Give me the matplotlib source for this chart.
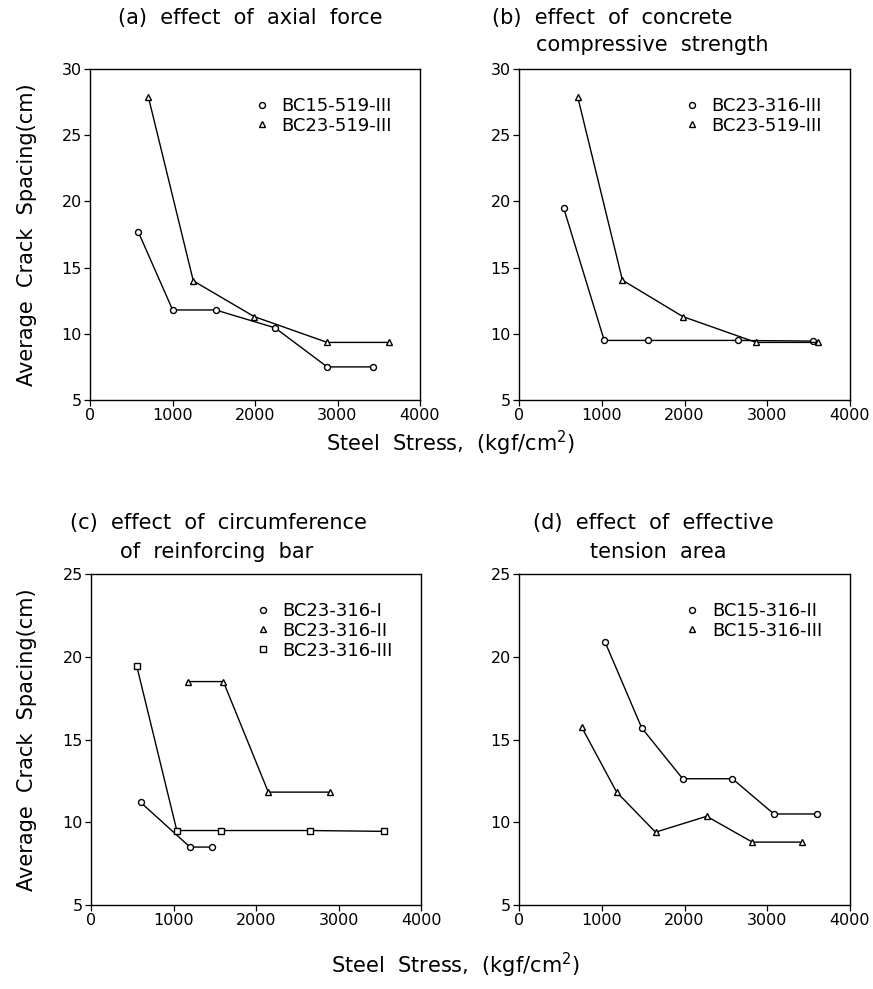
import matplotlib
matplotlib.use("Agg")
import matplotlib.pyplot as plt
from matplotlib.lines import Line2D

plt.rcParams['font.family'] = ['DejaVu Sans']

# ---- data ----
# (a) effect of axial force
a_names = ["BC15-519-III", "BC23-519-III"]
a_x1 = [585, 1002, 1523, 2243, 2875, 3430]
a_y1 = [17.7, 11.8, 11.8, 10.45, 7.5, 7.5]
a_x2 = [707, 1252, 1990, 2875, 3620]
a_y2 = [27.9, 14.0, 11.3, 9.35, 9.35]

# (b) effect of concrete compressive strength
b_names = ["BC23-316-III", "BC23-519-III"]
b_x1 = [540, 1030, 1555, 2642, 3554]
b_y1 = [19.5, 9.5, 9.5, 9.5, 9.45]
b_x2 = [709, 1250, 1980, 2865, 3608]
b_y2 = [27.9, 14.05, 11.3, 9.35, 9.35]

# (c) effect of circumference of reinforcing bar
c_names = ["BC23-316-I", "BC23-316-II", "BC23-316-III"]
c_x1 = [602, 1200, 1470]
c_y1 = [11.2, 8.5, 8.5]
c_x2 = [1172, 1604, 2149, 2897]
c_y2 = [18.5, 18.5, 11.82, 11.82]
c_x3 = [554, 1040, 1580, 2650, 3550]
c_y3 = [19.45, 9.5, 9.5, 9.5, 9.45]

# (d) effect of effective tension area
d_names = ["BC15-316-II", "BC15-316-III"]
d_x1 = [1039, 1483, 1978, 2578, 3081, 3606]
d_y1 = [20.9, 15.7, 12.63, 12.63, 10.5, 10.5]
d_x2 = [757, 1180, 1650, 2268, 2820, 3420]
d_y2 = [15.75, 11.82, 9.4, 10.36, 8.8, 8.8]

x_ticks = [0, 1000, 2000, 3000, 4000]
y_ticks_top = [5, 10, 15, 20, 25, 30]
y_ticks_bot = [5, 10, 15, 20, 25]

W, H = 873, 989
fig = plt.figure(figsize=(W / 100, H / 100), dpi=100)

def ax_at(left, top, right, bottom):
    return fig.add_axes([left / W, 1 - bottom / H, (right - left) / W, (bottom - top) / H])

axA = ax_at(90, 69, 420, 400)
axB = ax_at(519, 69, 850, 400)
axC = ax_at(91, 574, 421, 905)
axD = ax_at(519, 574, 850, 905)

mk = dict(color='black', lw=1.0, markerfacecolor='white', markeredgecolor='black',
          markersize=4.3, markeredgewidth=1.0)

def draw(ax, series, names, yt, ylim):
    handles = []
    for (xs, ys, m), nm in zip(series, names):
        ax.plot(xs, ys, marker=m, **mk)
        handles.append(Line2D([], [], ls='none', marker=m, markerfacecolor='white',
                              markeredgecolor='black', markersize=4.3, markeredgewidth=1.0))
    ax.set_xlim(0, 4000)
    ax.set_ylim(*ylim)
    ax.set_xticks(x_ticks)
    ax.set_yticks(yt)
    ax.tick_params(direction='out', length=4, width=0.9, labelsize=11.5, pad=2)
    for s in ax.spines.values():
        s.set_linewidth(1.0)
    ax.legend(handles, names, loc='upper right', frameon=False, fontsize=13,
              handlelength=0.6, handletextpad=0.8, labelspacing=0.1,
              borderaxespad=0.6, bbox_to_anchor=(0.97, 0.97))

draw(axA, [(a_x1, a_y1, 'o'), (a_x2, a_y2, '^')], a_names, y_ticks_top, (5, 30))
draw(axB, [(b_x1, b_y1, 'o'), (b_x2, b_y2, '^')], b_names, y_ticks_top, (5, 30))
draw(axC, [(c_x1, c_y1, 'o'), (c_x2, c_y2, '^'), (c_x3, c_y3, 's')], c_names, y_ticks_bot, (5, 25))
draw(axD, [(d_x1, d_y1, 'o'), (d_x2, d_y2, '^')], d_names, y_ticks_bot, (5, 25))

def ftext(x, y, s, size=15, **kw):
    fig.text(x / W, 1 - y / H, s, fontsize=size, va='center', **kw)

ftext(118, 18, "(a)  effect  of  axial  force", ha='left')
ftext(492, 18, "(b)  effect  of  concrete", ha='left')
ftext(536, 45, "compressive  strength", ha='left')
ftext(70, 523, "(c)  effect  of  circumference", ha='left')
ftext(120, 552, "of  reinforcing  bar", ha='left')
ftext(533, 523, "(d)  effect  of  effective", ha='left')
ftext(590, 552, "tension  area", ha='left')

ftext(450, 443, "Steel  Stress,  (kgf/cm$^2$)", ha='center')
ftext(455, 965, "Steel  Stress,  (kgf/cm$^2$)", ha='center')
ftext(27, 235, "Average  Crack  Spacing(cm)", ha='center', rotation=90)
ftext(27, 740, "Average  Crack  Spacing(cm)", ha='center', rotation=90)

fig.savefig("out.png", dpi=100, facecolor='white')
